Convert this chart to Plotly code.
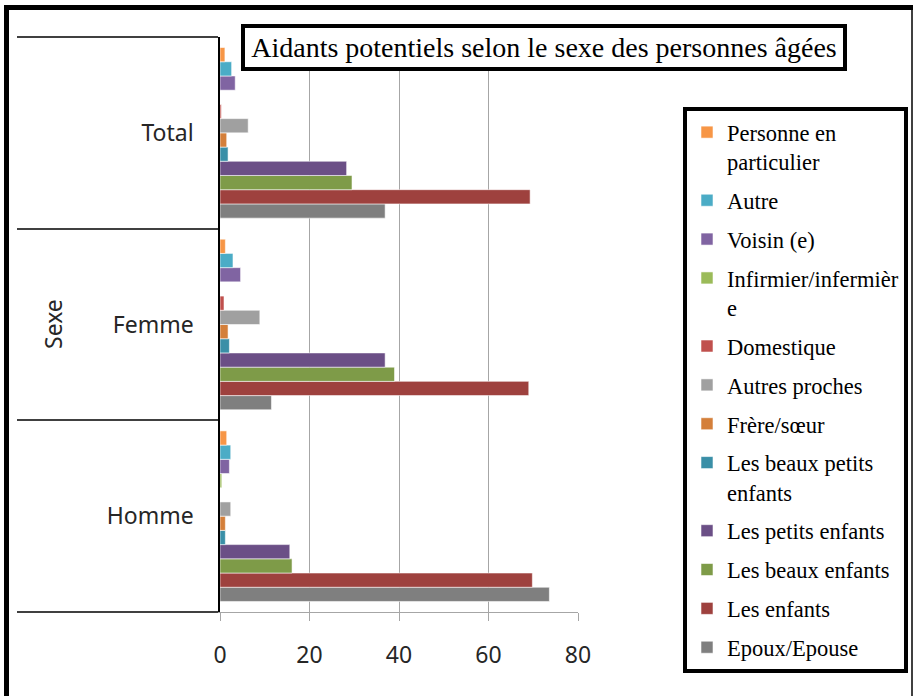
import plotly.graph_objects as go

# ---------------- data ----------------
categories = ["Homme", "Femme", "Total"]

series_names = [
    "Epoux/Epouse",
    "Les enfants",
    "Les beaux enfants",
    "Les petits enfants",
    "Les beaux petits<br>enfants",
    "Frère/sœur",
    "Autres proches",
    "Domestique",
    "Infirmier/infermièr<br>e",
    "Voisin (e)",
    "Autre",
    "Personne en<br>particulier",
]

epoux = [73.6, 11.5, 36.9]
enfants = [69.8, 69.0, 69.3]
beaux_enfants = [16.1, 39.0, 29.5]
petits_enfants = [15.6, 36.9, 28.3]
beaux_petits_enfants = [1.2, 2.1, 1.8]
frere_soeur = [1.2, 1.8, 1.5]
autres_proches = [2.4, 8.9, 6.3]
domestique = [0.0, 0.9, 0.3]
infirmier = [0.4, 0.0, 0.0]
voisin = [2.1, 4.6, 3.4]
autre = [2.4, 2.9, 2.6]
personne = [1.5, 1.2, 1.1]

series_values = [epoux, enfants, beaux_enfants, petits_enfants, beaux_petits_enfants,
                 frere_soeur, autres_proches, domestique, infirmier, voisin, autre, personne]

colors = ["#7F7F7F", "#9E413E", "#7E9B48", "#6B4F86", "#3A8FA7", "#D47F3A",
          "#A0A0A0", "#C0504D", "#9BBB59", "#8064A2", "#4BACC6", "#F79646"]

x_ticks = [0, 20, 40, 60, 80]
title_text = "Aidants potentiels selon le sexe des personnes âgées"
axis_title = "Sexe"

# ---------------- geometry helpers (layout only) ----------------
W, H = 915, 696
L, R, T, B = 220, 578, 37, 612


def px(xp):
    return (xp - L) / (R - L)


def py(yp):
    return (B - yp) / (B - T)


fig = go.Figure()
n = len(series_names)
for i, (name, vals, col) in enumerate(zip(series_names, series_values, colors)):
    fig.add_trace(go.Bar(
        y=categories, x=vals, name=name, orientation="h",
        marker=dict(color=col, line=dict(color="rgba(255,255,255,0.55)", width=1)),
        legendgroup=name, legendrank=n - i,
    ))

sans = "Noto Sans"
serif = "Liberation Serif"

fig.update_layout(
    width=W, height=H,
    margin=dict(l=L, r=W - R, t=T, b=H - B, autoexpand=False),
    paper_bgcolor="white", plot_bgcolor="white",
    barmode="group", bargap=0.11, bargroupgap=0,
    showlegend=True,
    legend=dict(
        x=px(683), y=py(107), xanchor="left", yanchor="top",
        bgcolor="white", bordercolor="black", borderwidth=4,
        font=dict(family=serif, size=22.5, color="black"),
        traceorder="grouped", tracegroupgap=6.6,
        valign="top",
    ),
    xaxis=dict(
        range=[0, 80], tickvals=x_ticks, showgrid=True,
        gridcolor="#A6A6A6", gridwidth=1,
        showline=True, linecolor="#A6A6A6", linewidth=1,
        ticks="outside", ticklen=8, tickcolor="#A6A6A6",
        ticklabelstandoff=14,
        tickfont=dict(family=sans, size=23, color="#262626"),
        zeroline=False, fixedrange=True, automargin=False,
    ),
    yaxis=dict(
        range=[-0.5, 2.5], showline=True, linecolor="black", linewidth=1.5,
        ticks="outside", tickson="boundaries", ticklen=201, tickcolor="#404040",
        tickwidth=1.5, ticklabelstandoff=20,
        tickfont=dict(family=sans, size=23, color="#262626"),
        showgrid=False, zeroline=False, automargin=False, fixedrange=True,
    ),
    annotations=[
        dict(text=title_text, xref="paper", yref="paper",
             x=px(543.5), y=py(47), xanchor="center", yanchor="middle",
             showarrow=False, font=dict(family=serif, size=28, color="black"),
             bordercolor="black", borderwidth=4, borderpad=4, bgcolor="white",
             width=590),
        dict(text=axis_title, xref="paper", yref="paper",
             x=px(53), y=py(324), xanchor="center", yanchor="middle",
             textangle=-90, showarrow=False,
             font=dict(family=sans, size=23, color="#262626")),
    ],
    shapes=[
        dict(type="line", xref="paper", yref="paper", x0=px(6.5), x1=px(6.5),
             y0=py(5), y1=py(700), line=dict(color="black", width=5)),
        dict(type="line", xref="paper", yref="paper", x0=px(4), x1=px(913),
             y0=py(7.5), y1=py(7.5), line=dict(color="black", width=5)),
        dict(type="line", xref="paper", yref="paper", x0=px(912), x1=px(912),
             y0=py(5), y1=py(700), line=dict(color="black", width=1.5)),
    ],
)

fig.write_html(
    "out.html",
    config={"displayModeBar": False},
    post_script="document.body.style.margin='0';document.body.style.overflow='hidden';",
)
